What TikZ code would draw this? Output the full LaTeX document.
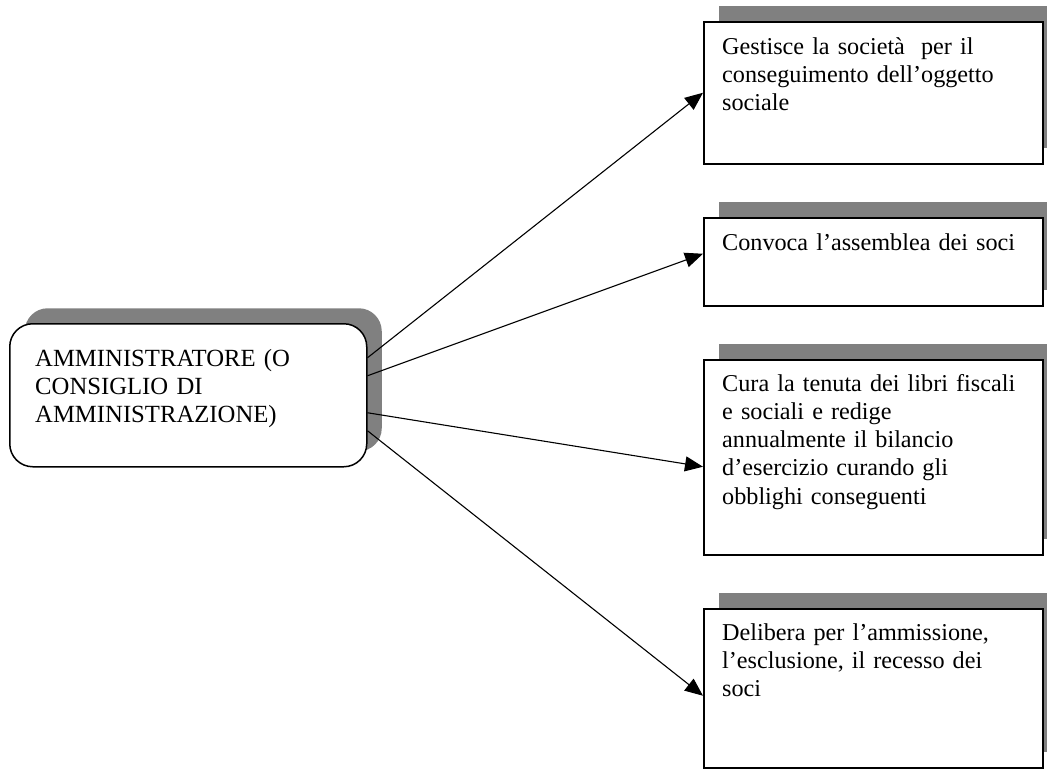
\documentclass[tikz,border=0pt]{standalone}
\usepackage{fontspec}
\setmainfont{Liberation Serif}
\usetikzlibrary{calc,arrows.meta,shadows}
\definecolor{shadowgray}{RGB}{128,128,128}
\tikzset{
  boxshadow/.style={drop shadow={shadow xshift=15pt,shadow yshift=15.5pt,opacity=1,fill=shadowgray}},
  mainbox/.style={draw=black, line width=1.5pt, fill=white, inner sep=0pt, anchor=north west, boxshadow},
  txt/.style={anchor=base west, inner sep=0pt, align=left, text width=330pt,
    font=\fontsize{24.7}{28.3}\selectfont},
  rtxt/.style={txt, font=\fontsize{24.2}{28.3}\selectfont},
  conn/.style={line width=1.1pt, -{Triangle[length=18pt,width=15pt]}}
}
\begin{document}
\begin{tikzpicture}[x=1pt,y=-1pt]
\useasboundingbox (0,0) rectangle (1047,769);
\clip (0,0) rectangle (1047,769);
% left box
\node[mainbox, rounded corners=23pt, minimum width=357pt, minimum height=143pt] (L) at (9,323) {};
% right boxes
\node[mainbox, minimum width=339pt, minimum height=142pt] (B1) at (703,21) {};
\node[mainbox, minimum width=339pt, minimum height=88pt] (B2) at (703,217) {};
\node[mainbox, minimum width=339pt, minimum height=195pt] (B3) at (703,359) {};
\node[mainbox, minimum width=339pt, minimum height=159pt] (B4) at (703,608) {};
% texts
\node[txt] (T0) at (35,366) {AMMINISTRATORE (O\\CONSIGLIO DI\\AMMINISTRAZIONE)};
\node[rtxt] (T1) at (722,54) {Gestisce la società\ \ per il\\conseguimento dell’oggetto\\sociale};
\node[rtxt] (T2) at (722,250) {Convoca l’assemblea dei soci};
\node[rtxt] (T3) at (722,391) {Cura la tenuta dei libri fiscali\\e sociali e redige\\annualmente il bilancio\\d’esercizio curando gli\\obblighi conseguenti};
\node[rtxt] (T4) at (722,640) {Delibera per l’ammissione,\\l’esclusione, il recesso dei\\soci};
% connectors
\draw[conn] ($(L.east)+(0,-37.5)$) -- (B1.west);
\draw[conn] ($(L.east)+(0,-19.5)$) -- ($(B2.west)+(0,-8)$);
\draw[conn] ($(L.east)+(0,17.5)$) -- ($(B3.west)+(0,9.5)$);
\draw[conn] ($(L.east)+(0,35.5)$) -- ($(B4.west)+(0,7.5)$);
\end{tikzpicture}
\end{document}
